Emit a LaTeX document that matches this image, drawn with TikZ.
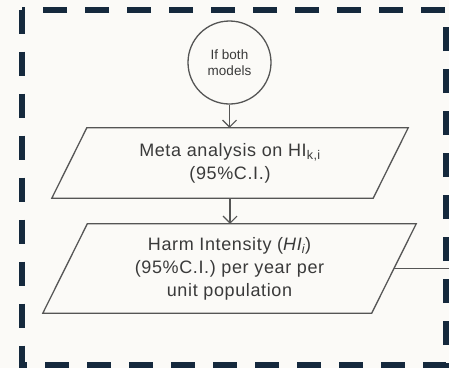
\documentclass[tikz,border=0pt]{standalone}
\usepackage{fontspec}
\setmainfont{Liberation Sans}
\newfontfamily\boxfont[LetterSpace=3.5]{Liberation Sans}
\usetikzlibrary{arrows.meta}
\definecolor{bg}{HTML}{FBFAF7}
\definecolor{navy}{HTML}{15293D}
\definecolor{stroke}{HTML}{555555}
\definecolor{txt}{HTML}{3A3A3A}
\tikzset{
  x=1pt, y=-1pt,
  startnode/.style={circle, draw=stroke, line width=1.3pt, fill=bg, minimum size=83pt, inner sep=0pt,
    align=center, text=txt, font=\fontsize{13.5}{16.5}\selectfont},
  databox/.style={draw=none, minimum height=#1, inner sep=0pt, align=center, text=txt,
    font=\boxfont\fontsize{18}{23}\selectfont},
  shapeline/.style={draw=stroke, line width=1.3pt, line join=miter},
  flow/.style={draw=stroke, line width=1.3pt, -{Straight Barb[length=7pt, width=14pt, line width=1.1pt]}},
  plainline/.style={draw=stroke, line width=1.3pt},
  frame/.style={draw=navy, line width=6pt, dash pattern=on 24pt off 18pt}
}
\begin{document}
\begin{tikzpicture}
\fill[bg] (0,0) rectangle (449,368);
\useasboundingbox (0,0) rectangle (449,368);

\node[startnode] (c) at (229.5,62.5) {If both\\models};

\node[databox=70pt, minimum width=321pt] (meta) at (230,163)
  {Meta analysis on HI\textsubscript{k,i}\\(95\%C.I.)};
\draw[shapeline] ([xshift=17.5pt]meta.north west) -- ([xshift=17.5pt]meta.north east)
  -- ([xshift=-17.5pt]meta.south east) -- ([xshift=-17.5pt]meta.south west) -- cycle;

\node[databox=89pt, minimum width=328.5pt] (harm) at (229.5,268.5)
  {Harm Intensity (\textit{HI\textsubscript{i}})\\(95\%C.I.) per year per\\unit population};
\draw[shapeline] ([xshift=22.25pt]harm.north west) -- ([xshift=22.25pt]harm.north east)
  -- ([xshift=-22.25pt]harm.south east) -- ([xshift=-22.25pt]harm.south west) -- cycle;

\draw[flow] (c.south) -- (c.south |- meta.north);
\draw[flow] (meta.south) -- (meta.south |- harm.north);

\coordinate (out) at (449,268.5);
\draw[plainline] (harm.east) -- (out);

\draw[frame] (22,9.5) rectangle (445.5,364.5);
\end{tikzpicture}
\end{document}
